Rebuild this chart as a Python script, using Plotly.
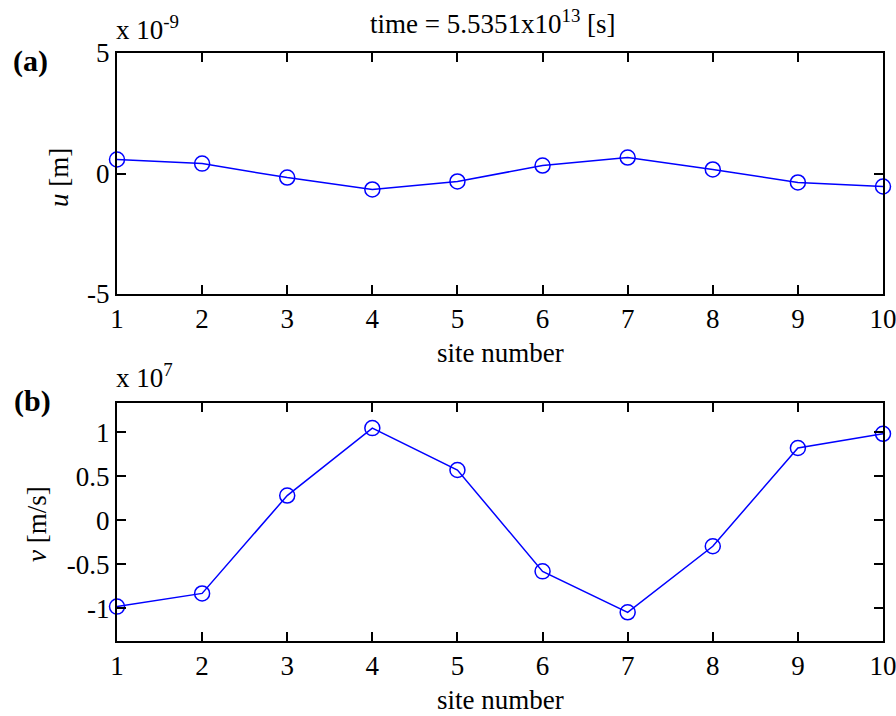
import plotly.graph_objects as go

W, H = 896, 716

# ---- data (in displayed axis units) ----
site = [1, 2, 3, 4, 5, 6, 7, 8, 9, 10]
u_vals = [0.58, 0.41, -0.17, -0.66, -0.33, 0.33, 0.66, 0.17, -0.37, -0.54]      # x 1e-9 m
v_vals = [-0.98, -0.83, 0.28, 1.045, 0.57, -0.58, -1.045, -0.295, 0.82, 0.98]   # x 1e7 m/s
u_ticks = [-5, 0, 5]
u_tick_text = ["-5", "0", "5"]
v_ticks = [-1, -0.5, 0, 0.5, 1]
v_tick_text = ["-1", "-0.5", "0", "0.5", "1"]
x_ticks = site

FONT = "Liberation Serif"
FS = 27
BLUE = "#0000ff"


def px_x(p):
    return p / W


def px_y(p):
    return 1 - p / H


fig = go.Figure()

marker = dict(symbol="circle-open", size=15, color=BLUE, line=dict(width=1.5, color=BLUE))
fig.add_trace(go.Scatter(x=site, y=u_vals, mode="lines+markers",
                         line=dict(color=BLUE, width=1.5), marker=marker,
                         xaxis="x", yaxis="y", showlegend=False, cliponaxis=False))
fig.add_trace(go.Scatter(x=site, y=v_vals, mode="lines+markers",
                         line=dict(color=BLUE, width=1.5), marker=marker,
                         xaxis="x2", yaxis="y2", showlegend=False, cliponaxis=False))

axis_common = dict(showline=True, linecolor="black", linewidth=2, mirror="ticks",
                   ticks="inside", ticklen=9, tickwidth=2, tickcolor="black",
                   showgrid=False, zeroline=False, ticklabeloverflow="allow",
                   automargin=False,
                   tickfont=dict(family=FONT, size=FS, color="black"))

xdom = [px_x(117), px_x(883)]
fig.update_layout(
    width=W, height=H, autosize=False,
    margin=dict(l=0, r=0, t=0, b=0, pad=0, autoexpand=False),
    paper_bgcolor="white", plot_bgcolor="white",
    font=dict(family=FONT, size=FS, color="black"),
    xaxis=dict(domain=xdom, range=[1, 10], tickvals=x_ticks, anchor="y", **axis_common),
    yaxis=dict(domain=[px_y(294), px_y(53)], range=[-5, 5], tickvals=u_ticks,
               ticktext=u_tick_text, anchor="x", **axis_common),
    xaxis2=dict(domain=xdom, range=[1, 10], tickvals=x_ticks, anchor="y2", **axis_common),
    yaxis2=dict(domain=[px_y(641), px_y(403)], range=[-1.37, 1.33], tickvals=v_ticks,
                ticktext=v_tick_text, anchor="x2", **axis_common),
)

ann = []


def add(text, x, y, **kw):
    d = dict(text=text, x=px_x(x), y=px_y(y), xref="paper", yref="paper",
             showarrow=False, font=dict(family=FONT, size=FS, color="black"))
    d.update(kw)
    ann.append(d)


add("time = 5.5351x10<sup>13</sup> [s]", 493, 22, xanchor="center", yanchor="middle")
add("<b>(a)</b>", 30, 61, xanchor="center", yanchor="middle",
    font=dict(family=FONT, size=30, color="black"))
add("<b>(b)</b>", 32, 401, xanchor="center", yanchor="middle",
    font=dict(family=FONT, size=30, color="black"))
add("x 10<sup>-9</sup>", 114, 28, xanchor="left", yanchor="middle")
add("x 10<sup>7</sup>", 114, 376, xanchor="left", yanchor="middle")
add("<i>u</i> [m]", 59, 178, xanchor="center", yanchor="middle", textangle=-90)
add("<i>v</i> [m/s]", 37, 524, xanchor="center", yanchor="middle", textangle=-90)
add("site number", 500, 353, xanchor="center", yanchor="middle")
add("site number", 500, 700, xanchor="center", yanchor="middle")

fig.update_layout(annotations=ann)

css = "document.body.style.margin='0';"
fig.write_html("out.html", post_script=css)
